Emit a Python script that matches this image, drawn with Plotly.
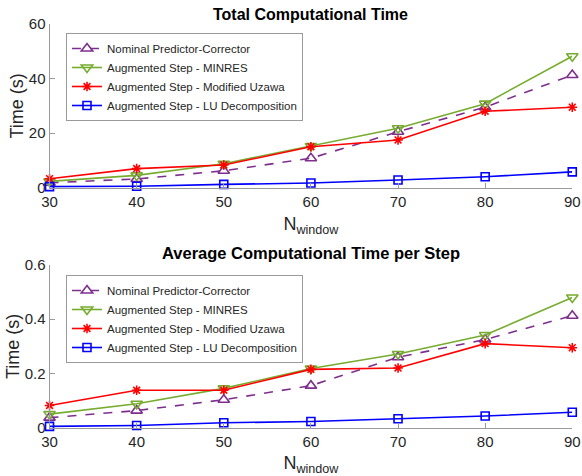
import plotly.graph_objects as go

n_window = [30, 40, 50, 60, 70, 80, 90]
series_names = ["Nominal Predictor-Corrector", "Augmented Step - MINRES",
                "Augmented Step - Modified Uzawa", "Augmented Step - LU Decomposition"]

# Total computational time (s)
total_nominal = [1.8, 3.2, 6.2, 10.8, 20.5, 29.5, 41.3]
total_minres = [2.3, 4.5, 8.8, 15.3, 21.8, 30.8, 48.2]
total_uzawa = [3.3, 7.0, 8.3, 15.0, 17.5, 28.0, 29.5]
total_lu = [0.4, 0.5, 1.2, 1.7, 2.8, 4.0, 5.8]

# Average computational time per step (s)
avg_nominal = [0.037, 0.063, 0.103, 0.155, 0.26, 0.325, 0.413]
avg_minres = [0.05, 0.088, 0.145, 0.218, 0.272, 0.342, 0.48]
avg_uzawa = [0.082, 0.138, 0.138, 0.215, 0.22, 0.31, 0.295]
avg_lu = [0.005, 0.008, 0.018, 0.023, 0.033, 0.043, 0.057]

top_ticks = [0, 20, 40, 60]
bottom_ticks = [0, 0.2, 0.4, 0.6]
bottom_ticktext = ["0", "0.2", "0.4", "0.6"]

colors = ["#7E2F8E", "#77AC30", "#FF0000", "#0000FF"]
symbols = ["triangle-up-open", "triangle-down-open", "asterisk-open", "square-open"]
sizes = [10, 10, 8, 8]
dashes = ["dash", "solid", "solid", "solid"]

FONT = "Liberation Sans, Arial, sans-serif"
fig = go.Figure()

for data, xa, ya, leg in [
    ([total_nominal, total_minres, total_uzawa, total_lu], "x", "y", "legend"),
    ([avg_nominal, avg_minres, avg_uzawa, avg_lu], "x2", "y2", "legend2"),
]:
    for i, vals in enumerate(data):
        fig.add_trace(go.Scatter(
            x=n_window, y=vals, name=series_names[i], mode="lines+markers",
            xaxis=xa, yaxis=ya, legend=leg, cliponaxis=False,
            line=dict(color=colors[i], width=1.6, dash=dashes[i]),
            marker=dict(symbol=symbols[i], size=sizes[i], color=colors[i],
                        line=dict(color=colors[i], width=1.6)),
        ))

axis_common = dict(
    showline=True, linecolor="#9a9a9a", linewidth=1, ticks="inside", ticklen=5,
    tickcolor="#9a9a9a", showgrid=False, zeroline=False, mirror=False, automargin=False,
    tickfont=dict(family=FONT, size=15, color="#262626"),
)
xtitle = dict(text="N<sub>window</sub>", font=dict(family=FONT, size=18, color="#262626"), standoff=8)
ytitle = dict(text="Time (s)", font=dict(family=FONT, size=18, color="#262626"), standoff=0)

legend_common = dict(
    bgcolor="white", bordercolor="#9a9a9a", borderwidth=1,
    font=dict(family=FONT, size=11.5, color="#262626"),
    xanchor="left", yanchor="top", tracegroupgap=0, itemwidth=30,
)

fig.update_layout(
    width=582, height=476, margin=dict(l=0, r=0, t=0, b=0),
    paper_bgcolor="white", plot_bgcolor="white",
    font=dict(family=FONT, color="#262626"),
    xaxis=dict(domain=[0.0851, 0.9833], anchor="y", range=[30, 90], tickvals=n_window,
               title=xtitle, **axis_common),
    yaxis=dict(domain=[0.6057, 0.9496], anchor="x", range=[0, 60], tickvals=top_ticks,
               title=ytitle, **axis_common),
    xaxis2=dict(domain=[0.0851, 0.9833], anchor="y2", range=[30, 90], tickvals=n_window,
                title=xtitle, **axis_common),
    yaxis2=dict(domain=[0.1015, 0.4433], anchor="x2", range=[0, 0.6], tickvals=bottom_ticks,
                ticktext=bottom_ticktext, title=ytitle, **axis_common),
    legend=dict(x=66 / 582, y=(476 - 33) / 476, **legend_common),
    legend2=dict(x=66 / 582, y=(476 - 275) / 476, **legend_common),
    annotations=[
        dict(text="<b>Total Computational Time</b>", x=0.534, y=(476 - 14) / 476,
             xref="paper", yref="paper", showarrow=False, yanchor="middle",
             font=dict(family=FONT, size=16, color="black")),
        dict(text="<b>Average Computational Time per Step</b>", x=0.534, y=(476 - 253) / 476,
             xref="paper", yref="paper", showarrow=False, yanchor="middle",
             font=dict(family=FONT, size=16.5, color="black")),
    ],
)

fig.write_html("out.html", config={"displayModeBar": False},
               post_script="document.body.style.margin='0';document.body.style.overflow='hidden';")
